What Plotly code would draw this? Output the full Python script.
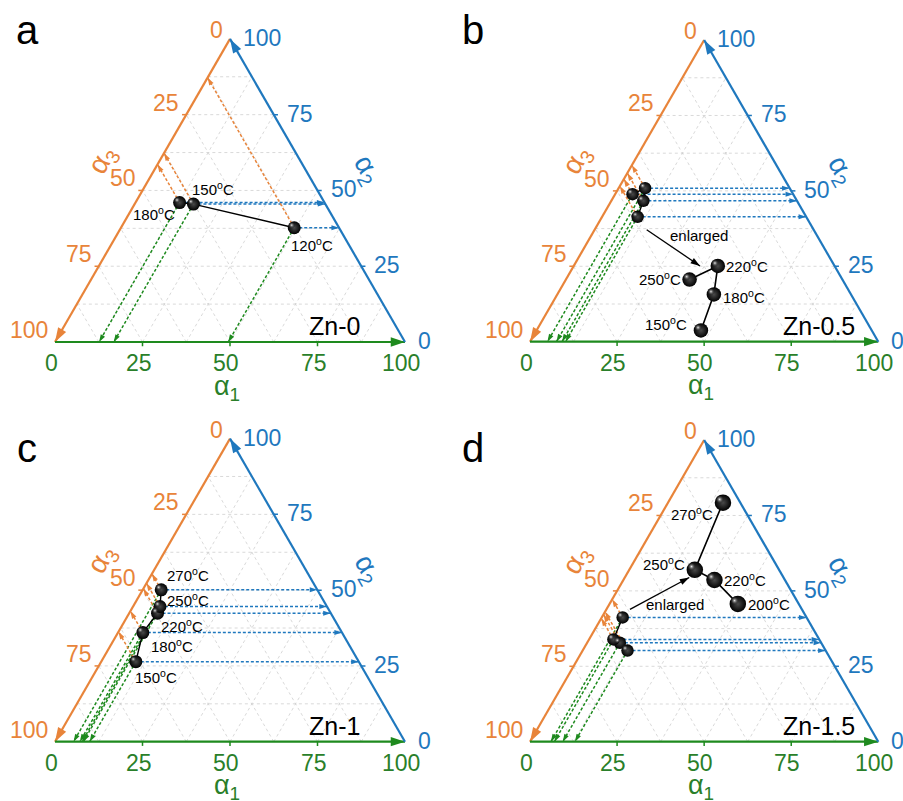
import math
import plotly.graph_objects as go

SQ = math.sqrt(3) / 2

# Phase fractions (%) per annealing temperature; alpha3 = 100 - alpha1 - alpha2
zn0_temp = [120, 150, 180]
zn0_a1 = [49.5, 16.8, 12.6]
zn0_a2 = [37.7, 45.5, 46.0]

zn05_temp = [150, 180, 220, 250]
zn05_a1 = [10.2, 9.2, 7.6, 5.0]
zn05_a2 = [41.4, 46.7, 50.9, 48.9]

zn1_temp = [150, 180, 220, 250, 270]
zn1_a1 = [9.9, 7.1, 8.1, 7.7, 5.3]
zn1_a2 = [26.4, 36.0, 42.4, 44.6, 50.1]

zn15_temp = [200, 220, 250, 270]
zn15_a1 = [12.9, 9.4, 7.0, 6.0]
zn15_a2 = [30.2, 32.8, 33.9, 41.2]

axis_ticks = [0, 25, 50, 75, 100]
grid_step = 12.5

ORANGE = "#E8843A"
BLUE = "#1F78BE"
GREEN = "#1E8A1E"
GREEN_TXT = "#2A7F2A"
FONT = "Arial, 'Liberation Sans', sans-serif"
W, H = 903, 801


def cart(a1, a2):
    """Ternary (alpha1, alpha2) -> plane coordinates of the triangle."""
    return a1 + a2 * 0.5, a2 * SQ


def heading(x0, y0, x1, y1):
    """Marker angle (deg, clockwise from up) of the direction (x0,y0)->(x1,y1)."""
    return math.degrees(math.atan2(x1 - x0, y1 - y0))


panels = [
    dict(letter="a", name="Zn-0", temp=zn0_temp, a1=zn0_a1, a2=zn0_a2,
         origin=(55.0, 342.0), scale=3.5, box=(0, 0, 451.5, 400.5), dot=13,
         shifts=[(18, -17), (20, 16), (-26, -11)], inset=None),
    dict(letter="b", name="Zn-0.5", temp=zn05_temp, a1=zn05_a1, a2=zn05_a2,
         origin=(530.0, 341.7), scale=3.483, box=(451.5, 0, 903, 400.5), dot=12.5,
         shifts=[(-35, 7), (30, -2), (29, 0), (-30, 1)],
         inset=dict(k=2.25, center=(50.4, 14.1), dot=14.5,
                    arrow=(0, (2.6, -3.7), 2, (-5.1, 0.0)), text=(48.4, 30.6))),
    dict(letter="c", name="Zn-1", temp=zn1_temp, a1=zn1_a1, a2=zn1_a2,
         origin=(55.0, 741.7), scale=3.5, box=(0, 400.5, 451.5, 801), dot=13,
         shifts=[(20, -15), (29, -13), (24, -12), (28, 7), (27, 15)], inset=None),
    dict(letter="d", name="Zn-1.5", temp=zn15_temp, a1=zn15_a1, a2=zn15_a2,
         origin=(530.0, 741.7), scale=3.483, box=(451.5, 400.5, 903, 801), dot=12.5,
         shifts=[(31, 0), (31, 0), (-31, 6), (-31, -11)],
         inset=dict(k=3.05, center=(53.84, 50.99), dot=16.5,
                    arrow=(3, (2.1, 2.3), 2, (-1.6, -2.2)), text=(41.6, 39.5))),
]

fig = go.Figure()
layout = dict(width=W, height=H, margin=dict(l=0, r=0, t=0, b=0),
              paper_bgcolor="white", plot_bgcolor="white", showlegend=False,
              font=dict(family=FONT))
ann = []


def add_arrow(x0, y0, x1, y1, color, width, head, ax):
    """Straight line from (x0,y0) to (x1,y1) ending in an arrowhead."""
    fig.add_trace(go.Scatter(x=[x0, x1], y=[y0, y1], mode="lines", hoverinfo="skip",
                             line=dict(color=color, width=width), **ax))
    fig.add_trace(go.Scatter(x=[x1], y=[y1], mode="markers", hoverinfo="skip",
                             marker=dict(symbol="arrow", size=head, color=color,
                                         angle=heading(x0, y0, x1, y1), line=dict(width=0)),
                             **ax))


def add_spheres(xs, ys, size, sc, ax):
    # dark ball with a soft off-centre highlight
    fig.add_trace(go.Scatter(
        x=xs, y=ys, mode="markers", hoverinfo="skip",
        marker=dict(size=size, color="#000000", line=dict(width=0),
                    gradient=dict(type="radial", color="#4a4a4a")), **ax))
    off = size * 0.2 / sc
    fig.add_trace(go.Scatter(
        x=[x - off for x in xs], y=[y + off for y in ys], mode="markers", hoverinfo="skip",
        marker=dict(size=size * 0.55, color="rgba(0,0,0,0)", line=dict(width=0),
                    gradient=dict(type="radial", color="rgba(245,245,245,0.95)")), **ax))


for i, p in enumerate(panels):
    sfx = "" if i == 0 else str(i + 1)
    xr, yr = "x" + sfx, "y" + sfx
    ax = dict(xaxis=xr, yaxis=yr)
    ox, oy = p["origin"]
    sc = p["scale"]
    bl, bt, br, bb = p["box"]
    layout["xaxis" + sfx] = dict(domain=[bl / W, br / W], range=[(bl - ox) / sc, (br - ox) / sc],
                                 visible=False, fixedrange=True)
    layout["yaxis" + sfx] = dict(domain=[1 - bb / H, 1 - bt / H], range=[(oy - bb) / sc, (oy - bt) / sc],
                                 visible=False, fixedrange=True)

    # dotted grid, three families of iso-lines
    gx, gy = [], []
    v = grid_step
    while v < 100 - 1e-9:
        for (q1, q2) in [((0, v), (100 - v, v)), ((v, 0), (v, 100 - v)), ((100 - v, 0), (0, 100 - v))]:
            x1, y1 = cart(*q1)
            x2, y2 = cart(*q2)
            gx += [x1, x2, None]
            gy += [y1, y2, None]
        v += grid_step
    fig.add_trace(go.Scatter(x=gx, y=gy, mode="lines", hoverinfo="skip",
                             line=dict(color="#cfcfcf", width=0.8, dash="dot"), **ax))

    # small outward ticks on each edge
    tl = 1.2
    for col, fn in [(ORANGE, lambda t: (cart(0, 100 - t), (-tl, 0))),
                    (BLUE, lambda t: (cart(100 - t, t), (tl, 0))),
                    (GREEN, lambda t: (cart(t, 0), (0, -tl)))]:
        tx, ty = [], []
        for t in axis_ticks[1:-1]:
            (x0, y0), (dx, dy) = fn(t)
            tx += [x0, x0 + dx, None]
            ty += [y0, y0 + dy, None]
        fig.add_trace(go.Scatter(x=tx, y=ty, mode="lines", hoverinfo="skip",
                                 line=dict(color=col, width=1.5), **ax))

    pts = [cart(a1, a2) for a1, a2 in zip(p["a1"], p["a2"])]
    px = [q[0] for q in pts]
    py = [q[1] for q in pts]

    # projection lines to the three axes
    proj = [
        (BLUE, lambda a1, a2: cart(100 - a2, a2), 90),
        (GREEN, lambda a1, a2: cart(a1, 0), 210),
        (ORANGE, lambda a1, a2: cart(0, a1 + a2), 330),
    ]
    for col, end, ang in proj:
        lx, ly, ex, ey = [], [], [], []
        for (x0, y0), a1, a2 in zip(pts, p["a1"], p["a2"]):
            x1, y1 = end(a1, a2)
            lx += [x0, x1, None]
            ly += [y0, y1, None]
            ex.append(x1)
            ey.append(y1)
        fig.add_trace(go.Scatter(x=lx, y=ly, mode="lines", hoverinfo="skip",
                                 line=dict(color=col, width=1.5, dash="3px,2px"), **ax))
        fig.add_trace(go.Scatter(x=ex, y=ey, mode="markers", hoverinfo="skip",
                                 marker=dict(symbol="arrow", size=8, angle=ang, color=col,
                                             line=dict(width=0)), **ax))

    # triangle edges drawn as arrows
    top = cart(0, 100)
    for head, tail, col in [((0, 0), top, ORANGE), ((100, 0), (0, 0), GREEN), (top, (100, 0), BLUE)]:
        add_arrow(tail[0], tail[1], head[0], head[1], col, 2.2, 15, ax)

    # trajectory through the temperatures
    fig.add_trace(go.Scatter(x=px, y=py, mode="lines", hoverinfo="skip",
                             line=dict(color="black", width=1.4), **ax))
    add_spheres(px, py, p["dot"], sc, ax)

    lab_x, lab_y = px, py
    ins = p["inset"]
    if ins:
        k = ins["k"]
        cx, cy = ins["center"]
        mx = sum(px) / len(px)
        my = sum(py) / len(py)
        ix = [cx + k * (x - mx) for x in px]
        iy = [cy + k * (y - my) for y in py]
        si, (sdx, sdy), hi, (hdx, hdy) = ins["arrow"]
        add_arrow(px[si] + sdx, py[si] + sdy, ix[hi] + hdx, iy[hi] + hdy, "black", 1.3, 10, ax)
        fig.add_trace(go.Scatter(x=ix, y=iy, mode="lines", hoverinfo="skip",
                                 line=dict(color="black", width=1.6), **ax))
        add_spheres(ix, iy, ins["dot"], sc, ax)
        lab_x, lab_y = ix, iy
        ann.append(dict(x=ins["text"][0], y=ins["text"][1], xref=xr, yref=yr, text="enlarged",
                        showarrow=False, xanchor="center", yanchor="middle",
                        font=dict(size=15, color="black")))

    for t, x, y, (dx, dy) in zip(p["temp"], lab_x, lab_y, p["shifts"]):
        ann.append(dict(x=x, y=y, xref=xr, yref=yr, text=f"{t}<sup>o</sup>C", showarrow=False,
                        xanchor="center", yanchor="middle",
                        xshift=dx, yshift=dy, font=dict(size=15, color="black")))

    # tick labels
    for t in axis_ticks:
        x, y = cart(0, 100 - t)
        ann.append(dict(x=x, y=y, xref=xr, yref=yr, text=str(t), showarrow=False,
                        xanchor="right", yanchor="middle", xshift=-5, yshift=9 if t == 0 else 12,
                        font=dict(size=23, color=ORANGE)))
        x, y = cart(100 - t, t)
        ann.append(dict(x=x, y=y, xref=xr, yref=yr, text=str(t), showarrow=False,
                        xanchor="left", yanchor="middle", xshift=11, yshift=1,
                        font=dict(size=23, color=BLUE)))
        x, y = cart(t, 0)
        ann.append(dict(x=x, y=y, xref=xr, yref=yr, text=str(t), showarrow=False,
                        xanchor="center", yanchor="top", xshift=-4, yshift=-6,
                        font=dict(size=23, color=GREEN_TXT)))

    # axis titles
    ann.append(dict(x=49.1, y=-13.0, xref=xr, yref=yr, text="α<sub>1</sub>", showarrow=False,
                    xanchor="center", yanchor="middle", font=dict(size=27, color=GREEN_TXT)))
    ann.append(dict(x=13.7, y=52.0, xref=xr, yref=yr, text="α<sub>3</sub>", showarrow=False,
                    xanchor="center", yanchor="middle", textangle=-60,
                    font=dict(size=28, color=ORANGE)))
    ann.append(dict(x=89.1, y=49.1, xref=xr, yref=yr, text="α<sub>2</sub>", showarrow=False,
                    xanchor="center", yanchor="middle", textangle=60,
                    font=dict(size=28, color=BLUE)))

    # sample name
    ann.append(dict(x=72.0, y=4.6, xref=xr, yref=yr, text=p["name"], showarrow=False,
                    xanchor="left", yanchor="middle", font=dict(size=25, color="black")))

# panel letters
for letter, lx, ly in [("a", 27, 30), ("b", 473, 30), ("c", 27, 448), ("d", 473, 448)]:
    ann.append(dict(x=lx / W, y=1 - ly / H, xref="paper", yref="paper", text=letter,
                    xanchor="center", yanchor="middle", showarrow=False,
                    font=dict(size=40, color="black")))

layout["annotations"] = ann
fig.update_layout(**layout)
fig.write_html("out.html")
